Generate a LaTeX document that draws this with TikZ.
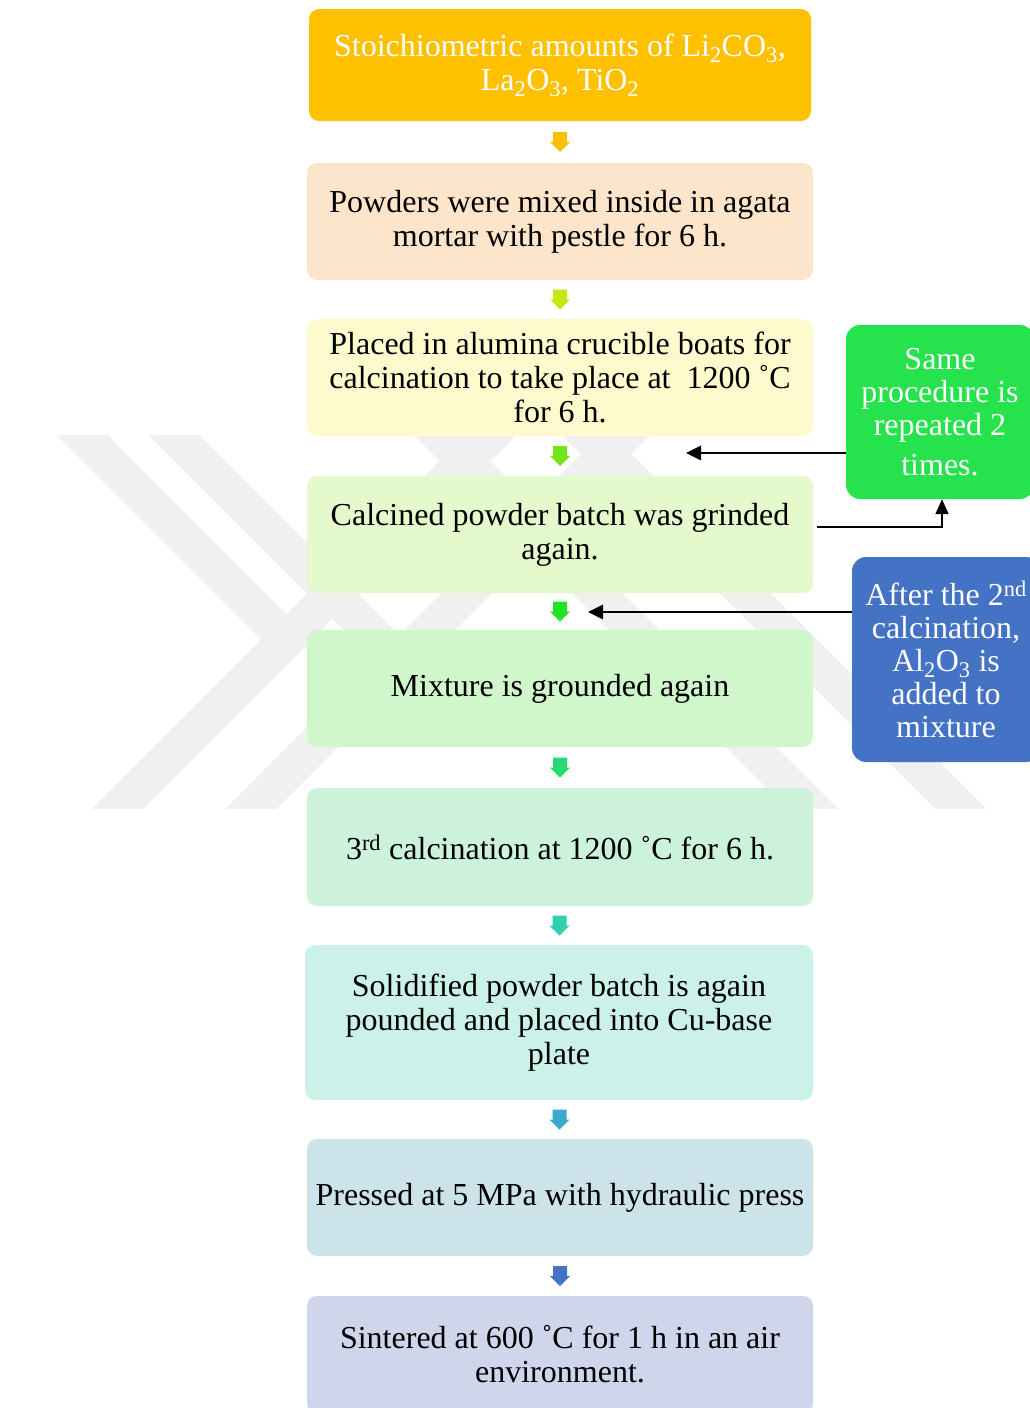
\documentclass[tikz,border=0pt]{standalone}
\usepackage{fontspec}
\setmainfont{Liberation Serif}
\usetikzlibrary{arrows.meta,calc}
\definecolor{wmgray}{RGB}{240,240,240}
\definecolor{cTop}{RGB}{255,192,0}
\definecolor{cB2}{RGB}{253,229,204}
\definecolor{cB3}{RGB}{253,250,205}
\definecolor{cB4}{RGB}{228,249,204}
\definecolor{cB5}{RGB}{208,246,204}
\definecolor{cB6}{RGB}{204,242,219}
\definecolor{cB7}{RGB}{204,241,233}
\definecolor{cB8}{RGB}{204,227,234}
\definecolor{cB9}{RGB}{207,213,234}
\definecolor{cGreen}{RGB}{38,226,77}
\definecolor{cBlue}{RGB}{68,114,196}
\definecolor{cA1}{RGB}{255,192,0}
\definecolor{cA2}{RGB}{196,232,16}
\definecolor{cA3}{RGB}{112,230,24}
\definecolor{cA4}{RGB}{36,226,40}
\definecolor{cA5}{RGB}{38,218,112}
\definecolor{cA6}{RGB}{48,208,176}
\definecolor{cA7}{RGB}{60,168,204}
\definecolor{cA8}{RGB}{68,114,196}
\tikzset{
  box/.style={rectangle, rounded corners=10pt, inner sep=0pt, align=center,
    font=\fontsize{32}{34}\selectfont, text=black, minimum width=506pt, minimum height=117pt},
  sidebox/.style={rectangle, rounded corners=14pt, inner sep=0pt, align=center,
    font=\fontsize{32}{33}\selectfont, text=white, minimum width=188pt},
  wm/.style={line width=36pt, color=wmgray, line join=miter},
  conn/.style={line width=2.8pt, -{Triangle[length=15pt,width=14pt]}},
  thinconn/.style={line width=1.8pt, -{Triangle[length=15pt,width=13pt]}},
}
\newcommand\blockarrow[2]{\fill[#2, shift={(#1)}] (-7,-10) -- (7,-10) -- (7,0) -- (10,0) -- (0,10) -- (-10,0) -- (-7,0) -- cycle;}
\begin{document}
\begin{tikzpicture}[x=1pt,y=-1pt]
\useasboundingbox (0,0) rectangle (1030,1408);
% watermark
\begin{scope}
  \clip (0,435) rectangle (1030,808);
  \draw[wm] (57,410) -- (287,640) -- (88,838);
  \draw[wm] (88,838) -- (521,405);
  \draw[wm] (149,410) -- (399,660) -- (222,838);
  \draw[wm] (222,838) -- (655,405);
  \draw[wm] (842,838) -- (409,405);
  \draw[wm] (990,838) -- (557,405);
\end{scope}
\clip (0,0) rectangle (1030,1408);
% main boxes
\node[box, fill=cTop, text=white, minimum width=502pt, minimum height=112pt] (b1) at (560,65)
  {Stoichiometric amounts of Li\textsubscript{2}CO\textsubscript{3},\\La\textsubscript{2}O\textsubscript{3}, TiO\textsubscript{2}};
\node[box, fill=cB2] (b2) at (560,221.5) {Powders were mixed inside in agata\\mortar with pestle for 6 h.};
\node[box, fill=cB3] (b3) at (560,377.5) {Placed in alumina crucible boats for\\calcination to take place at~ 1200 ˚C\\for 6 h.};
\node[box, fill=cB4] (b4) at (560,534.5) {Calcined powder batch was grinded\\again.};
\node[box, fill=cB5] (b5) at (560,688.5) {Mixture is grounded again};
\node[box, fill=cB6, minimum height=118pt] (b6) at (560,847) {3\textsuperscript{rd} calcination at 1200 ˚C for 6 h.};
\node[box, fill=cB7, minimum width=508pt, minimum height=155pt] (b7) at (559,1022.5) {Solidified powder batch is again\\pounded and placed into Cu-base\\plate};
\node[box, fill=cB8] (b8) at (560,1197.5) {Pressed at 5 MPa with hydraulic press};
\node[box, fill=cB9] (b9) at (560,1354.5) {Sintered at 600 ˚C for 1 h in an air\\environment.};
% side boxes
\node[sidebox, fill=cGreen, minimum height=174pt] (green) at (940,412)
  {Same\\procedure is\\repeated 2\\[7pt]times.};
\node[sidebox, fill=cBlue, minimum height=205pt] (blue) at (946,659.5)
  {After the 2\textsuperscript{nd}\\calcination,\\Al\textsubscript{2}O\textsubscript{3} is\\added to\\mixture};
% block arrows between steps
\coordinate (m1) at ($(b1.south)!0.5!(b2.north)$);
\coordinate (m2) at ($(b2.south)!0.5!(b3.north)$);
\coordinate (m3) at ($(b3.south)!0.5!(b4.north)$);
\coordinate (m4) at ($(b4.south)!0.5!(b5.north)$);
\coordinate (m5) at ($(b5.south)!0.5!(b6.north)$);
\coordinate (m6) at ($(b6.south)!0.5!(b7.north)$);
\coordinate (m7) at ($(b7.south)!0.5!(b8.north)$);
\coordinate (m8) at ($(b8.south)!0.5!(b9.north)$);
\blockarrow{m1}{cA1}
\blockarrow{m2}{cA2}
\blockarrow{m3}{cA3}
\blockarrow{m4}{cA4}
\blockarrow{m5}{cA5}
\blockarrow{m6}{cA6}
\blockarrow{m7}{cA7}
\blockarrow{m8}{cA8}
% connectors
\coordinate (c1) at (686,453);
\coordinate (c2) at (588,612);
\coordinate (c3) at (817,527);
\draw[conn] (green.west |- c1) -- (c1);
\draw[conn] (blue.west |- c2) -- (c2);
\draw[thinconn] (c3) -| ([xshift=2pt]green.south);
\end{tikzpicture}
\end{document}
